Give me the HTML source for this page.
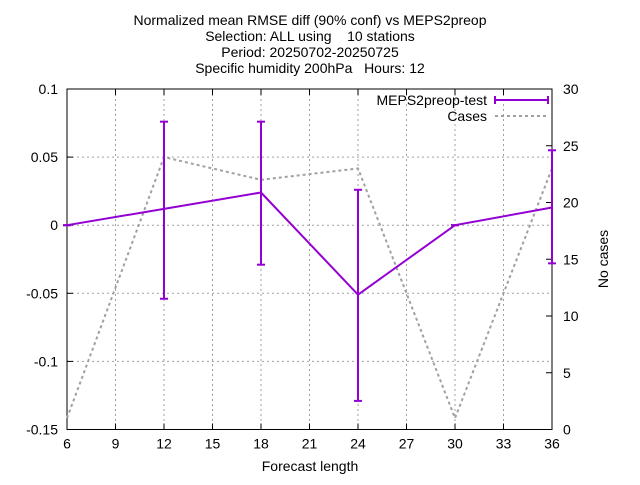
<!DOCTYPE html>
<html><head><meta charset="utf-8"><style>
body{margin:0;background:#fff;}
svg{font-family:"Liberation Sans",sans-serif;}
#titles text{white-space:pre;}
</style></head><body>
<svg id="chart" width="640" height="480" viewBox="0 0 640 480">
<g id="titles" font-size="14" text-anchor="middle" fill="#000" xml:space="preserve">
<text x="310" y="25">Normalized mean RMSE diff (90% conf) vs MEPS2preop</text>
<text x="310" y="41">Selection: ALL using    10 stations</text>
<text x="310" y="57">Period: 20250702-20250725</text>
<text x="310" y="73">Specific humidity 200hPa   Hours: 12</text>
</g>
<g id="grid"></g>
<g id="axes"></g>
<g id="series"></g>
<text x="310" y="471" font-size="14" text-anchor="middle">Forecast length</text>
<text transform="translate(608,259) rotate(-90)" font-size="14" text-anchor="middle">No cases</text>
<g font-size="14">
<text x="487" y="105" text-anchor="end">MEPS2preop-test</text>
<line x1="495" y1="100" x2="548" y2="100" stroke="#9400d3" stroke-width="2"/>
<line x1="495" y1="96" x2="495" y2="104" stroke="#9400d3" stroke-width="2"/>
<line x1="548" y1="96" x2="548" y2="104" stroke="#9400d3" stroke-width="2"/>
<text x="487" y="121" text-anchor="end">Cases</text>
<line x1="495" y1="116" x2="548" y2="116" stroke="#a0a0a0" stroke-width="2" stroke-dasharray="3,3"/>
</g>
</svg>
<script>
const xValues=[6,12,18,24,30,36];
const diffValues=[0,0.012,0.024,-0.051,0,0.013];
const errHigh=[0,0.076,0.076,0.026,0,0.055];
const errLow=[0,-0.054,-0.029,-0.129,0,-0.028];
const caseValues=[1,24,22,23,1,23];
const xTicks=[6,9,12,15,18,21,24,27,30,33,36];
const yTicks=[0.1,0.05,0,-0.05,-0.1,-0.15];
const yTickLabels=["0.1","0.05","0","-0.05","-0.1","-0.15"];
const y2Ticks=[0,5,10,15,20,25,30];

const L=67,R=552,T=89,B=429.5;
const NS="http://www.w3.org/2000/svg";
function sx(v){return L+(v-6)/30*(R-L);}
function sy(v){return B-(v+0.15)/0.25*(B-T);}
function sy2(v){return B-v/30*(B-T);}
function mk(tag,attrs,parent){const e=document.createElementNS(NS,tag);for(const k in attrs)e.setAttribute(k,attrs[k]);parent.appendChild(e);return e;}
const grid=document.getElementById('grid'),axes=document.getElementById('axes'),series=document.getElementById('series');
xTicks.forEach(t=>{const x=sx(t);
 if(t!==6&&t!==36){const g=mk('line',{x1:x,y1:T,x2:x,y2:B,stroke:'#a0a0a0','stroke-width':1,'stroke-dasharray':'2,3'},grid);
 
 }
 mk('line',{x1:x,y1:B,x2:x,y2:B-6,stroke:'#000'},axes);
 mk('line',{x1:x,y1:T,x2:x,y2:T+6,stroke:'#000'},axes);
 const tx=mk('text',{x:x,y:B+19,'font-size':14,'text-anchor':'middle'},axes);tx.textContent=t;
 
 
});
yTicks.forEach((t,i)=>{const y=sy(t);
 if(i!==0&&i!==yTicks.length-1){const g=mk('line',{x1:L,y1:y,x2:R,y2:y,stroke:'#a0a0a0','stroke-width':1,'stroke-dasharray':'2,3'},grid);
 
 }
 mk('line',{x1:L,y1:y,x2:L+6,y2:y,stroke:'#000'},axes);
 const tx=mk('text',{x:L-9,y:y+5,'font-size':14,'text-anchor':'end'},axes);tx.textContent=yTickLabels[i];
 
 
});
y2Ticks.forEach(t=>{const y=sy2(t);
 mk('line',{x1:R,y1:y,x2:R-6,y2:y,stroke:'#000'},axes);
 const tx=mk('text',{x:R+11,y:y+5,'font-size':14,'text-anchor':'start'},axes);tx.textContent=t;
 
 
});
const frame=mk('rect',{x:L,y:T,width:R-L,height:B-T,fill:'none',stroke:'#000','stroke-width':1},axes);


const cp=mk('polyline',{points:xValues.map((x,i)=>sx(x)+','+sy2(caseValues[i])).join(' '),fill:'none',stroke:'#a0a0a0','stroke-width':2,'stroke-dasharray':'3,3'},series);


const tp=mk('polyline',{points:xValues.map((x,i)=>sx(x)+','+sy(diffValues[i])).join(' '),fill:'none',stroke:'#9400d3','stroke-width':2},series);


xValues.forEach((x,i)=>{const px=sx(x),y1=sy(errHigh[i]),y2=sy(errLow[i]);
 const g=mk('g',{stroke:'#9400d3','stroke-width':2},series);
 
 
 mk('line',{x1:px,y1:y1,x2:px,y2:y2},g);
 mk('line',{x1:px-4,y1:y1,x2:px+4,y2:y1},g);
 mk('line',{x1:px-4,y1:y2,x2:px+4,y2:y2},g);
});
</script>
</body></html>
